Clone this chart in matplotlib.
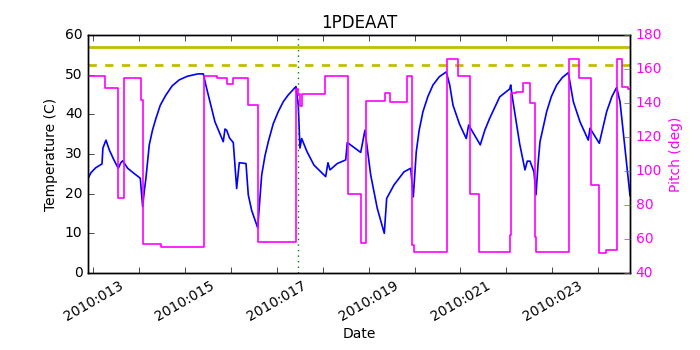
import numpy as np
import matplotlib
matplotlib.use('Agg')
import matplotlib.pyplot as plt

# temperature trace (day of year 2010, deg C)
temp_days = [12.885, 12.95, 13.05, 13.19, 13.21, 13.277, 13.35, 13.45, 13.545, 13.6, 13.64,
             13.75, 13.9, 14.024, 14.076, 14.11, 14.148, 14.22, 14.29, 14.366, 14.46, 14.584,
             14.72, 14.874, 15.05, 15.281, 15.397, 15.45, 15.505, 15.651, 15.832, 15.87, 15.906,
             15.97, 16.05, 16.124, 16.181, 16.327, 16.377, 16.45, 16.582, 16.669, 16.74, 16.813,
             16.92, 17.031, 17.14, 17.248, 17.416, 17.466, 17.503, 17.54, 17.656, 17.808, 18.063,
             18.113, 18.157, 18.316, 18.499, 18.534, 18.826, 18.919, 19.044, 19.187, 19.34,
             19.392, 19.551, 19.769, 19.915, 19.972, 20.037, 20.1, 20.183, 20.29, 20.401, 20.54,
             20.691, 20.765, 20.837, 20.98, 21.126, 21.178, 21.431, 21.53, 21.636, 21.854, 22.072,
             22.094, 22.122, 22.29, 22.405, 22.455, 22.514, 22.601, 22.645, 22.69, 22.732, 22.878,
             22.98, 23.096, 23.22, 23.349, 23.458, 23.604, 23.784, 23.821, 24.024, 24.1, 24.185,
             24.3, 24.403, 24.475, 24.584, 24.693]
temp_vals = [23.8, 25.3, 26.5, 27.5, 31.5, 33.5, 31.0, 28.5, 26.4, 27.8, 28.3,
             26.4, 25.0, 23.9, 16.7, 20.5, 24.0, 32.3, 36.0, 39.0, 42.3, 44.9,
             47.2, 48.7, 49.6, 50.2, 50.2, 47.5, 44.9, 38.1, 33.1, 36.3, 36.0,
             34.0, 32.9, 21.3, 27.8, 27.6, 19.7, 15.8, 11.4, 24.7, 29.5, 33.1,
             37.6, 40.7, 43.2, 44.9, 47.0, 42.3, 31.5, 33.9, 30.6, 27.2, 24.3,
             27.8, 26.0, 27.6, 28.5, 32.9, 30.4, 36.0, 24.7, 16.3, 10.0,
             18.8, 22.2, 25.5, 26.4, 19.2, 30.6, 36.0, 40.7, 44.5, 47.4, 49.5,
             50.7, 47.4, 42.3, 37.5, 33.9, 37.3, 32.3, 36.0, 39.0, 44.4, 46.4,
             47.4, 44.9, 32.5, 26.0, 28.2, 28.2, 25.5, 19.7, 27.5, 33.1, 40.7,
             44.5, 47.4, 49.3, 50.5, 43.2, 38.1, 33.5, 36.5, 32.7, 36.5, 40.7,
             44.5, 46.8, 43.2, 31.4, 19.5]

# pitch changes (day, deg), held until the next change
pitch_days = [12.885, 13.255, 13.545, 13.675, 14.039, 14.089, 14.475, 15.418, 15.688, 15.906,
              16.05, 16.364, 16.582, 17.416, 17.47, 17.50, 17.55, 18.048, 18.556, 18.826,
              18.941, 19.355, 19.464, 19.828, 19.95, 19.987, 20.699, 20.939, 21.207, 21.41,
              22.072, 22.09, 22.2, 22.368, 22.514, 22.623, 22.655, 23.37, 23.588, 23.837,
              24.024, 24.17, 24.403, 24.512, 24.656, 24.693]
pitch_vals = [155.9, 148.6, 84.3, 154.9, 141.8, 56.9, 55.5, 155.9, 154.9, 151.0,
              154.5, 138.8, 58.4, 148.0, 145.5, 138.0, 145.5, 155.6, 86.5, 57.5,
              141.4, 146.0, 140.8, 155.6, 56.5, 52.5, 165.7, 155.6, 86.5, 52.5,
              62.4, 145.7, 146.4, 151.6, 139.8, 61.4, 52.5, 165.9, 154.9, 91.8,
              51.6, 53.5, 165.9, 149.6, 148.2, 148.2]

planning_limit = 57.0
caution_limit = 52.4
marker_day = 17.466

tick_days = list(range(13, 25))
tick_labels = ['2010:%03d' % d if d % 2 == 1 else '' for d in tick_days]

plt.style.use('classic')
plt.rcParams['font.size'] = 10

fig = plt.figure(figsize=(7, 3.5), dpi=100, facecolor='white')
ax = fig.add_axes([0.1257, 0.22, 0.7743, 0.68])
ax.set_facecolor('white')

ax.plot(temp_days, temp_vals, color='b', lw=1.2)
ax.axhline(planning_limit, color='y', lw=2)
ax.axhline(caution_limit, color='y', lw=2, ls='--')
ax.axvline(marker_day, color='g', ls=':', lw=1)

ax.set_xlim(12.885, 24.693)
ax.set_ylim(0, 60)
ax.set_xticks(tick_days)
ax.set_xticklabels(tick_labels, rotation=30, ha='center')
ax.set_title('1PDEAAT', fontsize=12)
ax.set_xlabel('Date', labelpad=2)
ax.set_ylabel('Temperature (C)')

ax2 = ax.twinx()
ax2.step(pitch_days, pitch_vals, where='post', color='magenta', lw=1.2)
ax2.set_ylim(40, 180)
ax2.set_yticks(range(40, 181, 20))
ax2.set_ylabel('Pitch (deg)', color='magenta')
ax2.tick_params(axis='y', colors='magenta', labelcolor='magenta')
ax2.set_xlim(12.885, 24.693)

fig.savefig('out.png', dpi=100, facecolor='white')
